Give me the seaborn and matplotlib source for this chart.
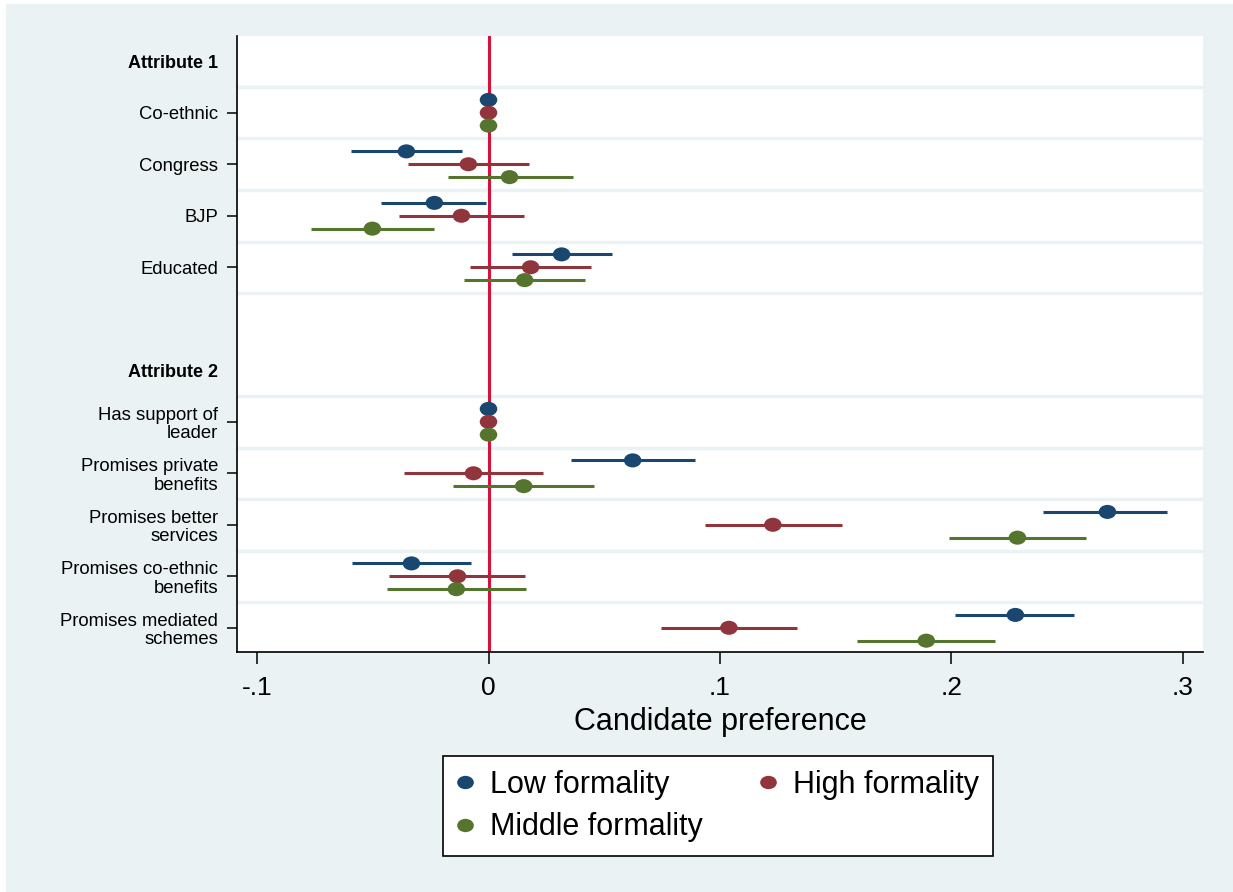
import numpy as np
import pandas as pd
import seaborn as sns
import matplotlib.pyplot as plt
from matplotlib.path import Path
from matplotlib.lines import Line2D
from matplotlib.patches import Rectangle

# --- data ---
headers = ["Attribute 1", "Attribute 2"]
attr1_levels = ["Co-ethnic", "Congress", "BJP", "Educated"]
attr2_levels = ["Has support of\nleader", "Promises private\nbenefits",
                "Promises better\nservices", "Promises co-ethnic\nbenefits",
                "Promises mediated\nschemes"]
groups = ["Low formality", "High formality", "Middle formality"]

low_est = [0, -0.0355, -0.0234, 0.0316, 0, 0.0623, 0.2675, -0.0333, 0.2277]
low_lo = [np.nan, -0.0593, -0.0463, 0.0100, np.nan, 0.0355, 0.2398, -0.0589, 0.2017]
low_hi = [np.nan, -0.0113, -0.0009, 0.0532, np.nan, 0.0892, 0.2931, -0.0074, 0.2532]

high_est = [0, -0.0087, -0.0117, 0.0182, 0, -0.0065, 0.1229, -0.0134, 0.1039]
high_lo = [np.nan, -0.0346, -0.0385, -0.0082, np.nan, -0.0364, 0.0935, -0.0429, 0.0745]
high_hi = [np.nan, 0.0173, 0.0152, 0.0442, np.nan, 0.0234, 0.1528, 0.0156, 0.1333]

mid_est = [0, 0.0091, -0.0502, 0.0156, 0, 0.0152, 0.2286, -0.0139, 0.1892]
mid_lo = [np.nan, -0.0177, -0.0766, -0.0104, np.nan, -0.0152, 0.1991, -0.0437, 0.1593]
mid_hi = [np.nan, 0.0364, -0.0234, 0.0416, np.nan, 0.0455, 0.2584, 0.0160, 0.2190]

palette = {"Low formality": "#1A476F", "High formality": "#90353B",
           "Middle formality": "#55752F"}
bg = "#EAF2F3"

# row layout: header, levels, blank row, header, levels
rows = [headers[0]] + attr1_levels + [""] + [headers[1]] + attr2_levels
level_labels = attr1_levels + attr2_levels
level_pos = [rows.index(l) for l in level_labels]
header_pos = [rows.index(h) for h in headers]
offsets = {"Low formality": -0.25, "High formality": 0.0, "Middle formality": 0.25}

recs = []
for g, est, lo, hi in [("Low formality", low_est, low_lo, low_hi),
                       ("High formality", high_est, high_lo, high_hi),
                       ("Middle formality", mid_est, mid_lo, mid_hi)]:
    for i, lab in enumerate(level_labels):
        recs.append(dict(level=lab, group=g, est=est[i], lo=lo[i], hi=hi[i],
                         y=level_pos[i] + offsets[g]))
df = pd.DataFrame(recs)

sns.set_theme(style="white")
plt.rcParams["font.family"] = ["Liberation Sans", "DejaVu Sans"]
for k in ["text.color", "axes.labelcolor", "xtick.color", "ytick.color"]:
    plt.rcParams[k] = "black"

fig = plt.figure(figsize=(12.33, 8.92), dpi=100, facecolor="white")
fig.patches.append(Rectangle((6 / 1233, 0), 1, 1 - 4 / 892, transform=fig.transFigure,
                             facecolor=bg, edgecolor="none", zorder=-10))
ax = fig.add_axes([237 / 1233, 1 - 652 / 892, 966 / 1233, 616 / 892])
ax.set_facecolor("white")

# light separators between rows
for blk in [range(0, 5), range(6, 11)]:
    for r in blk:
        ax.axhline(r + 0.5, color=bg, lw=2.5, zorder=0)

ax.axvline(0, color="#D7103C", lw=2.2, zorder=1)

ci = df.dropna()
ax.hlines(ci["y"], ci["lo"], ci["hi"], colors=ci["group"].map(palette), lw=2.2, zorder=2)

circ = Path.unit_circle()
ellipse = Path(circ.vertices * np.array([1.0, 0.8]), circ.codes)
sns.scatterplot(data=df, x="est", y="y", hue="group", palette=palette, marker=ellipse,
                s=160, linewidth=0, legend=False, zorder=3, ax=ax)

ax.set_xlim(-0.1087, 0.3088)
ax.set_ylim(11.47, -0.49)
ax.set_xticks([-0.1, 0, 0.1, 0.2, 0.3])
ax.set_xticklabels(["-.1", "0", ".1", ".2", ".3"], fontsize=19)
ax.set_yticks(level_pos)
ax.set_yticklabels(level_labels, fontsize=13.3, linespacing=1.12)
ax.tick_params(axis="x", length=8.5, width=1.1, pad=9, color="black", bottom=True)
ax.tick_params(axis="y", length=7, width=1.1, pad=6.5, color="black", left=True)
for h, p in zip(headers, header_pos):
    ax.text(-0.0197, p + 0.05, h, transform=ax.get_yaxis_transform(), ha="right",
            va="center", fontsize=13, fontweight="bold")

ax.set_xlabel("Candidate preference", fontsize=22, labelpad=5)
ax.set_ylabel("")
for s in ["top", "right"]:
    ax.spines[s].set_visible(False)
for s in ["left", "bottom"]:
    ax.spines[s].set_color("black")
    ax.spines[s].set_linewidth(1.2)

handles = [Line2D([], [], ls="", marker=ellipse, markersize=12, color=palette[g],
                  markeredgewidth=0) for g in groups]
order = [0, 2, 1]
leg = fig.legend([handles[i] for i in order], [groups[i] for i in order],
                 loc="center", bbox_to_anchor=(718 / 1233, 1 - 806 / 892), ncol=2,
                 fontsize=22, frameon=True, fancybox=False, framealpha=1,
                 edgecolor="black", facecolor="white", handlelength=0.55,
                 handletextpad=0.55, columnspacing=1.85, labelspacing=0.42,
                 borderpad=0.45)
leg.get_frame().set_linewidth(1.2)

fig.savefig("out.png", dpi=100, facecolor=fig.get_facecolor())
